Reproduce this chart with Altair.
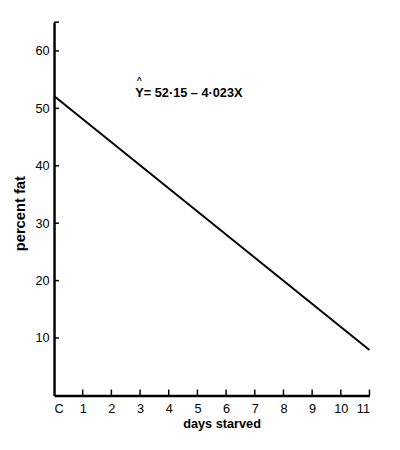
import altair as alt
import pandas as pd

# Regression line endpoints (percent fat vs days starved)
days = [0, 11]
fat = [52.15, 7.90]

x_tick_values = [0, 1, 2, 3, 4, 5, 6, 7, 8, 9, 10, 11]
x_inner_ticks = [1, 2, 3, 4, 5, 6, 7, 8, 9, 10, 11]
y_tick_values = [10, 20, 30, 40, 50, 60]
y_inner_ticks = [10, 20, 30, 40, 50, 60, 65]
equation = "Y= 52·15 – 4·023X"

W, H = 322, 381
FONT = "Liberation Sans"

xs = alt.Scale(domain=[0, 11], nice=False, zero=False)
ys = alt.Scale(domain=[0, 65], nice=False, zero=False)

xaxis = alt.Axis(
    title="days starved", values=x_tick_values,
    labelExpr="datum.value == 0 ? 'C' : datum.label",
    ticks=False, grid=False, domainColor="black", domainWidth=2.5,
    labelFont=FONT, labelFontSize=13, labelColor="black", labelPadding=7,
    titleFont=FONT, titleFontSize=13, titleFontWeight="bold", titleColor="black",
    titlePadding=3, titleX=171)
yaxis = alt.Axis(
    title="percent fat", values=y_tick_values,
    ticks=False, grid=False, domainColor="black", domainWidth=2.5,
    labelFont=FONT, labelFontSize=13, labelColor="black", labelPadding=5,
    titleFont=FONT, titleFontSize=15, titleFontWeight="bold", titleColor="black",
    titlePadding=8, titleY=195)

line_df = pd.DataFrame({"days": days, "fat": fat})

line = alt.Chart(line_df).mark_line(color="black", strokeWidth=2, clip=False).encode(
    x=alt.X("days:Q", scale=xs, axis=xaxis),
    y=alt.Y("fat:Q", scale=ys, axis=yaxis),
)

yt = alt.Chart(pd.DataFrame({"v": y_inner_ticks})).mark_rule(color="black", strokeWidth=1.5).encode(
    y=alt.Y("v:Q", scale=ys, axis=yaxis),
    x=alt.value(0), x2=alt.value(5),
)

xt = alt.Chart(pd.DataFrame({"v": x_inner_ticks})).mark_rule(color="black", strokeWidth=1.5).encode(
    x=alt.X("v:Q", scale=xs, axis=xaxis),
    y=alt.value(H), y2=alt.value(H - 6),
)

eq = alt.Chart(pd.DataFrame({"t": [equation]})).mark_text(
    align="left", baseline="middle", font=FONT, fontSize=13, fontWeight="bold", color="black"
).encode(text="t:N", x=alt.value(83), y=alt.value(72))

hat = alt.Chart(pd.DataFrame({"t": ["^"]})).mark_text(
    align="center", baseline="middle", font=FONT, fontSize=9, fontWeight="bold", color="black"
).encode(text="t:N", x=alt.value(87), y=alt.value(59))

chart = alt.layer(line, yt, xt, eq, hat).properties(
    width=W, height=H,
    autosize=alt.AutoSizeParams(type="none"),
    padding={"left": 47, "top": 10, "right": 23, "bottom": 40},
).configure(background="white").configure_view(strokeWidth=0, stroke=None)

chart.save("out.html", embed_options={"renderer": "svg", "actions": False})
